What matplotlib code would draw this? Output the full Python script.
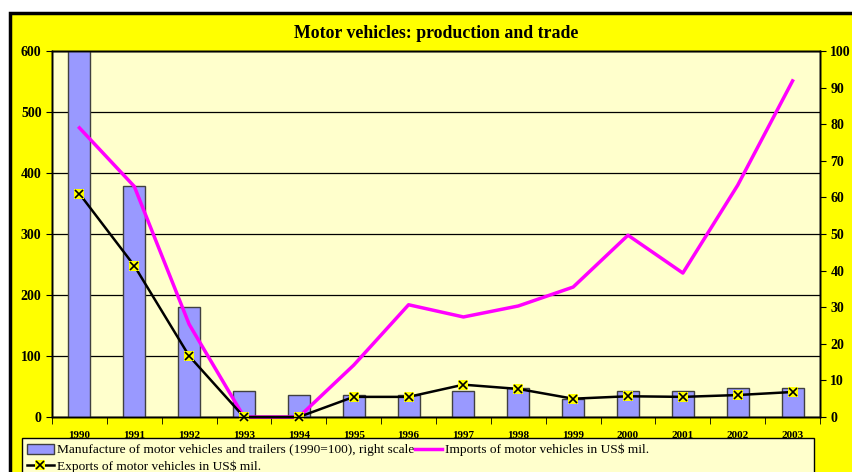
import matplotlib.pyplot as plt
from matplotlib.patches import Rectangle
import numpy as np

years = ['1990', '1991', '1992', '1993', '1994', '1995', '1996',
         '1997', '1998', '1999', '2000', '2001', '2002', '2003']
manufacture = [100, 63, 30, 7, 6, 6, 6, 7, 8, 5, 7, 7, 8, 8]
imports = [474, 378, 152, 0, 0, 85, 184, 164, 182, 213, 298, 236, 380, 551]
exports = [366, 248, 100, 0, 0, 33, 33, 53, 46, 30, 34, 33, 36, 41]

plt.rcParams['font.family'] = 'Liberation Serif'

fig = plt.figure(figsize=(8.53, 4.72), dpi=100)
fig.patch.set_facecolor('white')
# yellow chart area with black border (clipped at right/bottom)
fig.patches.append(Rectangle((10/853, -0.1), 1.0, 1 - 13/472 + 0.1,
                             transform=fig.transFigure, facecolor='#FFFF00',
                             edgecolor='black', linewidth=2.5, zorder=-10))

x = np.arange(len(years))
ax = fig.add_axes([52/853, 1 - 417/472, 768/853, 366/472])
ax.set_facecolor('#FFFFCC')
ax.set_ylim(0, 600)
ax.set_yticks(range(0, 601, 100))
ax.yaxis.grid(True, color='black', linewidth=0.9)
ax.set_axisbelow(True)
ax.set_xlim(-0.5, len(years) - 0.5)
ax.set_xticks(x)
ax.set_xticklabels(years, fontsize=8, fontweight='bold')
ax.set_xticks(np.arange(-0.5, len(years)), minor=True)
ax.tick_params(axis='x', which='major', length=0, pad=10)
ax.tick_params(axis='x', which='minor', length=5, direction='out')
ax.tick_params(axis='y', length=4, labelsize=10)
for lab in ax.get_yticklabels():
    lab.set_fontweight('bold')

# bars on right scale
axb = ax.twinx()
axb.bar(x, manufacture, width=0.4, color='#9999FF', edgecolor='#404040',
        linewidth=1)
axb.set_ylim(0, 100)
axb.set_yticks(range(0, 101, 10))
axb.tick_params(axis='y', length=4, labelsize=10)
for lab in axb.get_yticklabels():
    lab.set_fontweight('bold')

# lines on left scale
axl = ax.twinx()
axl.set_ylim(0, 600)
axl.set_yticks([])
li, = axl.plot(x, imports, color='#FF00FF', linewidth=2.5, clip_on=False)
le, = axl.plot(x, exports, color='black', linewidth=1.8, clip_on=False)
ms, = axl.plot(x, exports, linestyle='none', marker='s', markersize=6.5,
               markerfacecolor='#FFFF00', markeredgewidth=0, clip_on=False)
mx, = axl.plot(x, exports, linestyle='none', marker='x', markersize=5.5,
               color='black', markeredgewidth=1.2, clip_on=False)

for a in (ax, axb, axl):
    for s in a.spines.values():
        s.set_color('black')
        s.set_linewidth(1)

ax.set_title('Motor vehicles: production and trade', fontsize=12.8,
             fontweight='bold', pad=9)

# legend box
fig.patches.append(Rectangle((22/853, -0.1), (814 - 22)/853, 0.1 + 1 - 438/472,
                             transform=fig.transFigure, facecolor='#FFFFCC',
                             edgecolor='black', linewidth=1, zorder=1))
bars = axb.patches[0]
fig.legend([bars, (le, ms, mx), li],
           ['Manufacture of motor vehicles and trailers (1990=100), right scale',
            'Exports of motor vehicles in US$ mil.',
            'Imports of motor vehicles in US$ mil.'],
           loc='upper left', bbox_to_anchor=(23/853, 1 - 440/472), ncol=2,
           frameon=False, fontsize=9.6, handlelength=2.0, handletextpad=0.25,
           columnspacing=0.05, labelspacing=0.3, borderaxespad=0, borderpad=0.3)

plt.savefig('out.png', dpi=100)
